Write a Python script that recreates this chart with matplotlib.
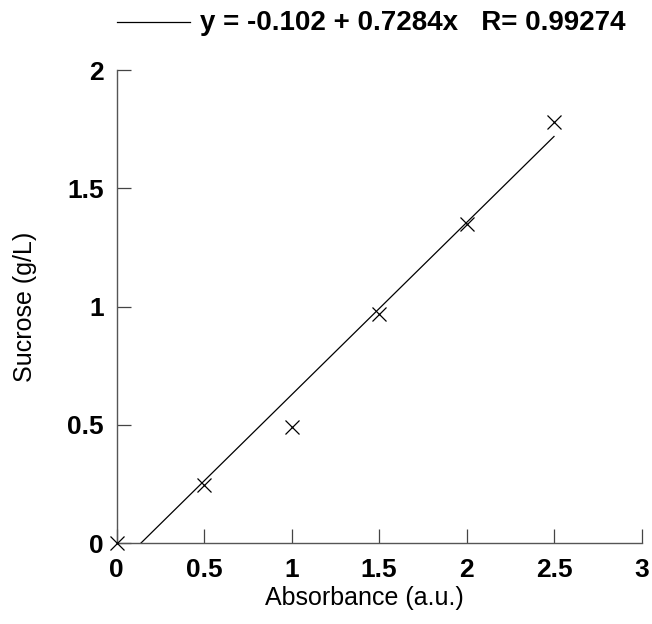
import numpy as np
import matplotlib
matplotlib.use('Agg')
import matplotlib.pyplot as plt

plt.rcParams['font.family'] = ['Liberation Sans', 'DejaVu Sans']

absorbance = [0, 0.5, 1.0, 1.5, 2.0, 2.5]
sucrose = [0, 0.245, 0.49, 0.97, 1.35, 1.78]
fit_a = -0.102
fit_b = 0.7284
fit_r = 0.99274
x_ticks = [0, 0.5, 1, 1.5, 2, 2.5, 3]
x_tick_labels = ['0', '0.5', '1', '1.5', '2', '2.5', '3']
y_ticks = [0, 0.5, 1, 1.5, 2]
y_tick_labels = ['0', '0.5', '1', '1.5', '2']

fig = plt.figure(figsize=(6.52, 6.24), dpi=100)
ax = fig.add_axes([0.1787, 0.1298, 0.8052, 0.758])

ax.plot(absorbance, sucrose, linestyle='none', marker='x', markersize=10.5,
        markeredgewidth=0.9, color='black', clip_on=False, zorder=3)

xfit = np.array([absorbance[0], absorbance[-1]])
ax.plot(xfit, fit_a + fit_b * xfit, color='black', linewidth=0.9)

ax.set_xlim(0, 3)
ax.set_ylim(0, 2)
ax.set_xticks(x_ticks)
ax.set_xticklabels(x_tick_labels)
ax.set_yticks(y_ticks)
ax.set_yticklabels(y_tick_labels)

for side in ['top', 'right']:
    ax.spines[side].set_visible(False)
for side in ['left', 'bottom']:
    ax.spines[side].set_color('#555555')
    ax.spines[side].set_linewidth(1.0)

ax.tick_params(direction='in', length=10, width=0.9, color='#444444',
               labelsize=19)
ax.tick_params(axis='x', pad=11)
ax.tick_params(axis='y', pad=9)
for lbl in ax.get_xticklabels() + ax.get_yticklabels():
    lbl.set_fontweight('heavy')

ax.set_xlabel('Absorbance (a.u.)', fontsize=18)
ax.set_ylabel('Sucrose (g/L)', fontsize=18)
ax.xaxis.set_label_coords(0.473, -0.091)
ax.yaxis.set_label_coords(-0.152, 0.5)

# legend line + equation at the top
fig.lines.append(plt.Line2D([117 / 652, 190 / 652], [1 - 22 / 624, 1 - 22 / 624],
                            color='black', linewidth=0.9, transform=fig.transFigure))
fig.text(200 / 652, 1 - 23 / 624,
         'y = %.3f + %.4fx   R= %.5f' % (fit_a, fit_b, fit_r),
         fontsize=20, fontweight='bold', va='center', ha='left')

fig.savefig('out.png', dpi=100)
